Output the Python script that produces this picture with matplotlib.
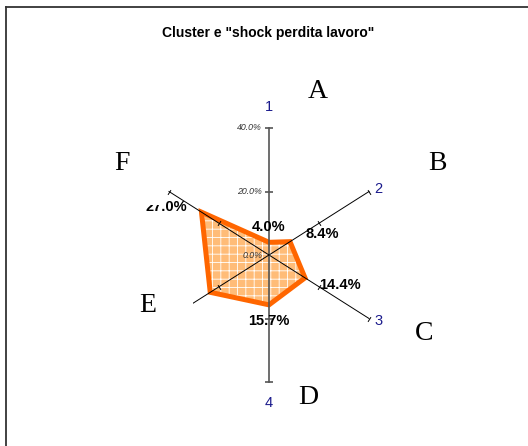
import numpy as np
import matplotlib.pyplot as plt
from matplotlib.lines import Line2D
from matplotlib.patches import Rectangle, Polygon

# dati
categorie = ['A', 'B', 'C', 'D', 'E', 'F']
assi = ['1', '2', '3', '4', '5', '6']
valori = [4.0, 8.4, 14.4, 15.7, 23.5, 27.0]
tick_val = [0, 20, 40]
tick_lab = ['0.0%', '20.0%', '40.0%']
titolo = 'Cluster e "shock perdita lavoro"'

W, H = 528, 446
plt.rcParams['hatch.linewidth'] = 0.6
fig = plt.figure(figsize=(W / 100, H / 100), dpi=100)
fig.patch.set_facecolor('white')

def px(x, y):
    return x / W, 1 - y / H

# area del radar: centro a (269, 255) px
ax = fig.add_axes([0, 0, 1, 1])
ax.set_xlim(-269 / 2.8875, (W - 269) / 2.8875)
ax.set_ylim(-(H - 255) / 3.175, 255 / 3.175)
ax.axis('off')

ang = np.deg2rad(90 - 60 * np.arange(len(categorie)))
rmax = max(tick_val)

# poligono dei dati
xs = np.array(valori) * np.cos(ang)
ys = np.array(valori) * np.sin(ang)
pts = np.column_stack([xs, ys])
ax.add_patch(Polygon(pts, closed=True, facecolor='#FFBC78', edgecolor='white',
                     hatch='++', linewidth=0, zorder=2))
ax.add_patch(Polygon(pts, closed=True, fill=False, edgecolor='#FF6600',
                     linewidth=3.6, joinstyle='miter', zorder=3))

# assi
for i, a in enumerate(ang):
    ex, ey = rmax * np.cos(a), rmax * np.sin(a)
    vert = abs(np.cos(a)) < 1e-6
    col = '#555555' if vert else 'black'
    lw = 1.2 if vert else 0.7
    ax.plot([0, ex], [0, ey], color=col, lw=lw, zorder=4)
    rot = np.degrees(np.arctan2(np.sin(a) * 3.175, np.cos(a) * 2.8875))
    tv = np.array(tick_val[1:])
    ax.plot(tv * np.cos(a), tv * np.sin(a), ls='none', marker=(2, 0, rot),
            ms=6 if vert else 4, mec=col, mew=lw, zorder=4)

# etichette dei valori dell'asse
for v, t in zip(tick_val, tick_lab):
    ax.annotate(t, (0, v), xytext=(-5, 0), textcoords='offset points',
                ha='right', va='center', fontsize=6.3, style='italic',
                color='#333333', family='Liberation Sans', zorder=5)

# numeri degli assi
off_assi = [(0, 15), (4, 2), (4, -2), (0, -15), (-4, -2), (-4, 2)]
for i, a in enumerate(ang):
    ox, oy = off_assi[i]
    ha = 'center' if ox == 0 else ('left' if ox > 0 else 'right')
    ax.annotate(assi[i], (rmax * np.cos(a), rmax * np.sin(a)), xytext=(ox, oy),
                textcoords='offset points', ha=ha, va='center', fontsize=10.5,
                color='#1A1A8C', family='Liberation Sans', zorder=5)

# etichette dei dati
off_dati = [(0, 11), (23, 5.5), (25, -5), (0, -11.5), (-27, -4), (-25, 3.5)]
for i in range(len(valori)):
    ax.annotate(f'{valori[i]:.1f}%', (xs[i], ys[i]), xytext=off_dati[i],
                textcoords='offset points', ha='center', va='center',
                fontsize=10.5, fontweight='bold', family='Liberation Sans',
                color='black', zorder=6)

# riquadri bianchi delle etichette di categoria (coprono come nell'originale)
box_F = Rectangle(px(84, 205), 81 / W, 80 / H, transform=fig.transFigure,
                  facecolor='white', edgecolor='none', zorder=10)
box_E = Rectangle(px(103, 345), 90 / W, 78 / H, transform=fig.transFigure,
                  facecolor='white', edgecolor='none', zorder=10)
fig.patches.extend([box_F, box_E])

pos_cat = [(318, 92), (437, 163), (424, 334), (308, 397), (148, 306), (122, 163)]
for c, (x, y) in zip(categorie, pos_cat):
    fig.text(*px(x, y), c, ha='center', va='center', fontsize=20,
             family='Liberation Serif', zorder=11)

fig.text(*px(268, 33), titolo, ha='center', va='center', fontsize=10,
         fontweight='bold', family='Liberation Sans')

# cornice (solo lato superiore e sinistro visibili)
fig.lines.append(Line2D([6 / W, 1], [1 - 7 / H, 1 - 7 / H], transform=fig.transFigure,
                        color='#333333', lw=1.3))
fig.lines.append(Line2D([6 / W, 6 / W], [0, 1 - 7 / H], transform=fig.transFigure,
                        color='#333333', lw=1.3))

fig.savefig('out.png', dpi=100)
